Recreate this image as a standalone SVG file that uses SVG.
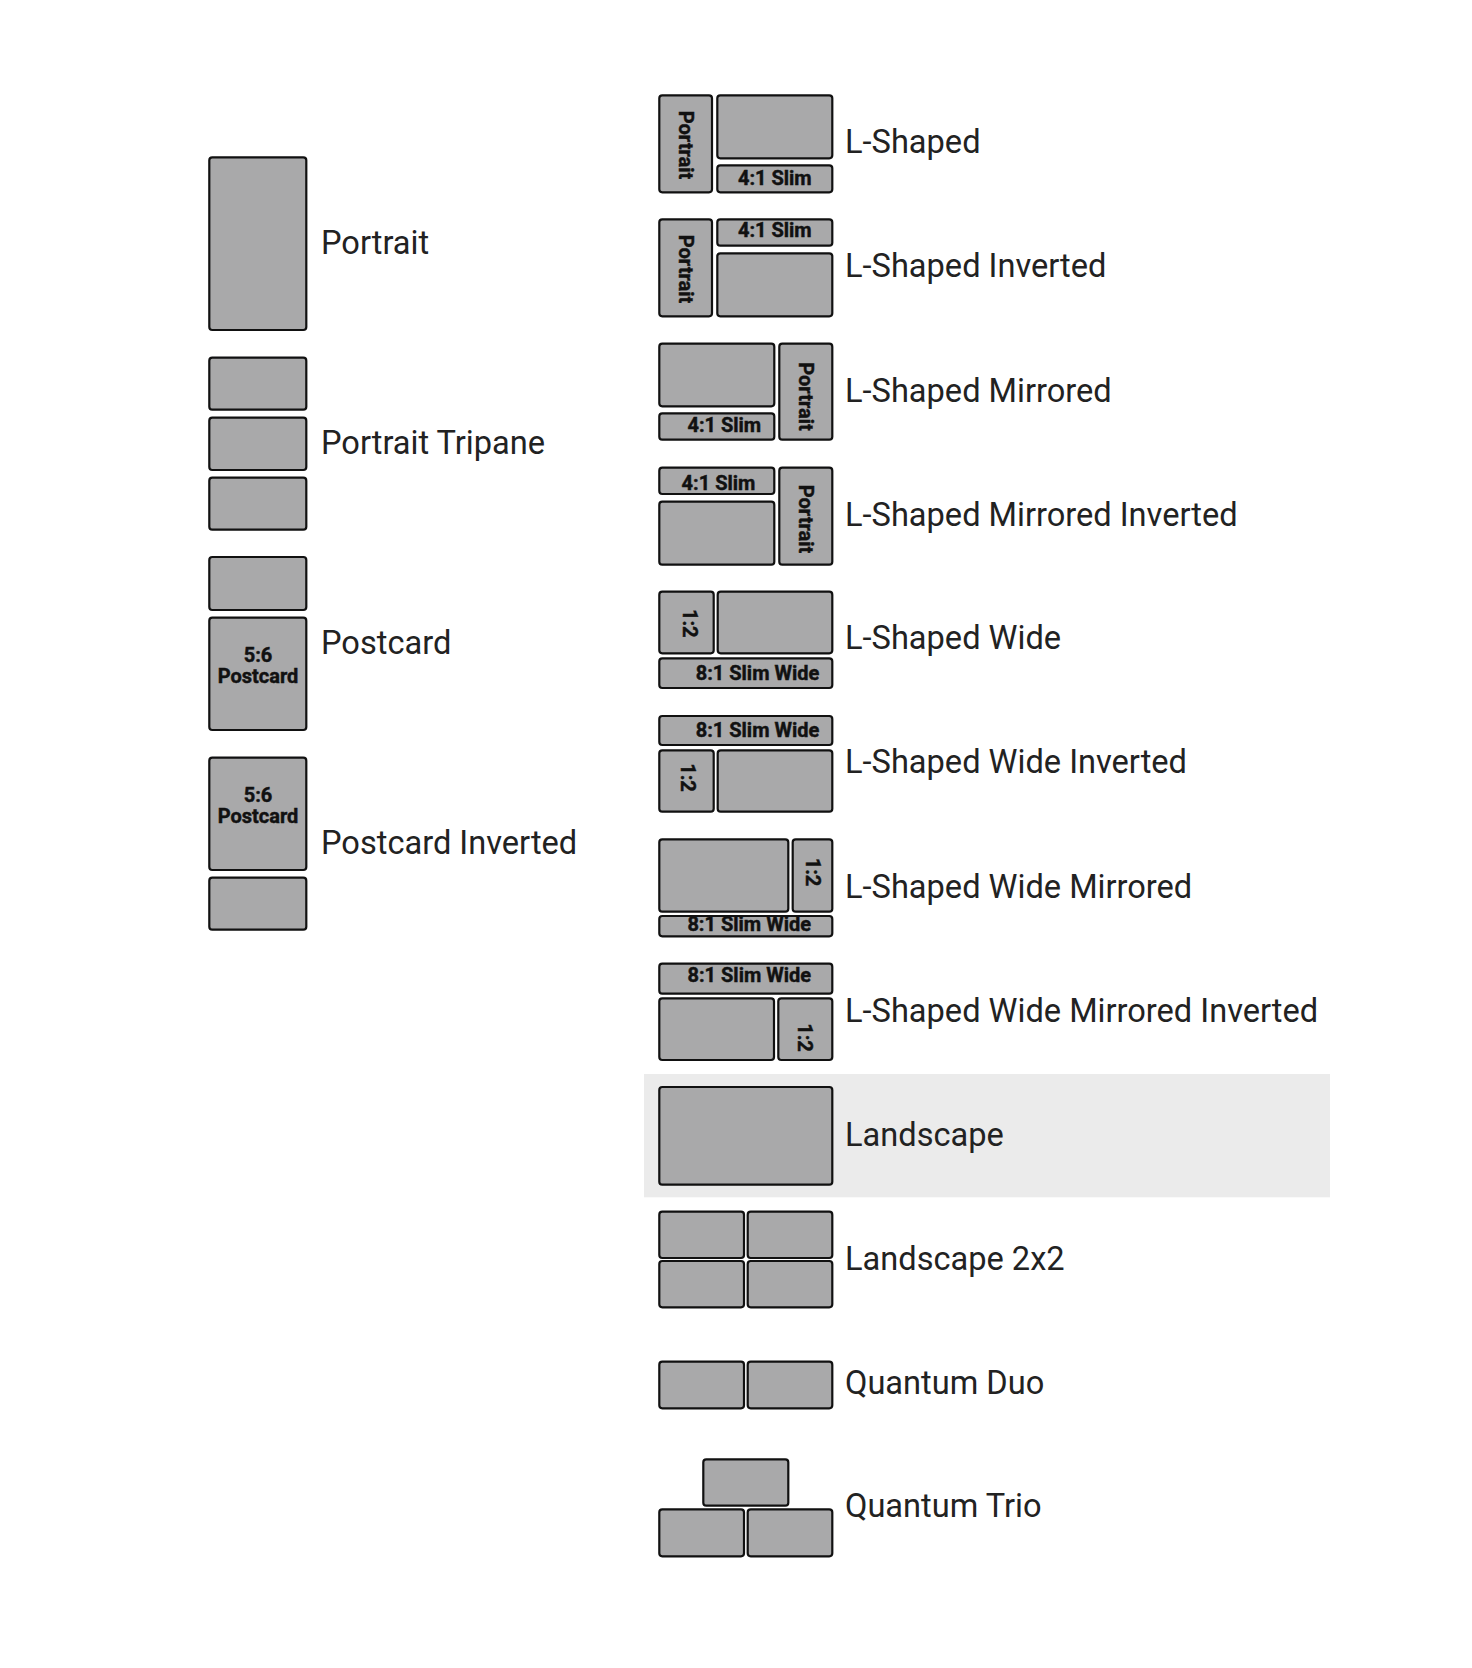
<svg xmlns="http://www.w3.org/2000/svg" width="1472" height="1668" viewBox="0 0 1472 1668">
<style>
.p{fill:#a9a9aa;stroke:#111;stroke-width:2.2}
.lbl{font-family:Roboto,"Liberation Sans",sans-serif;font-size:32.6px;fill:#222}
.t{font-family:Roboto,"Liberation Sans",sans-serif;font-size:20px;font-weight:bold;fill:#111;stroke:#111;stroke-width:0.45;text-anchor:middle}
.r{dominant-baseline:central}
</style>
<rect width="1472" height="1668" fill="#fff"/>
<rect x="644" y="1074" width="686" height="123.3" fill="#ebebeb"/>

<g id="portrait">
<rect class="p" x="209.3" y="157.3" width="97" height="172.7" rx="3"/>
<text class="lbl" x="321" y="254">Portrait</text>
</g>
<g id="portrait-tripane">
<rect class="p" x="209.3" y="357.7" width="97" height="52" rx="3"/>
<rect class="p" x="209.3" y="417.7" width="97" height="52.3" rx="3"/>
<rect class="p" x="209.3" y="477.7" width="97" height="52" rx="3"/>
<text class="lbl" x="321" y="453.5">Portrait Tripane</text>
</g>
<g id="postcard">
<rect class="p" x="209.3" y="557" width="97" height="53" rx="3"/>
<rect class="p" x="209.3" y="617.7" width="97" height="112.3" rx="3"/>
<text class="t" x="258" y="661.7">5:6</text>
<text class="t" x="258" y="683.3">Postcard</text>
<text class="lbl" x="321" y="654">Postcard</text>
</g>
<g id="postcard-inverted">
<rect class="p" x="209.3" y="757.7" width="97" height="112.3" rx="3"/>
<rect class="p" x="209.3" y="877.7" width="97" height="52" rx="3"/>
<text class="t" x="258" y="801.7">5:6</text>
<text class="t" x="258" y="823.3">Postcard</text>
<text class="lbl" x="321" y="853.5">Postcard Inverted</text>
</g>

<g id="l-shaped">
<rect class="p" x="659.3" y="95.3" width="52.7" height="97" rx="3"/>
<rect class="p" x="717.3" y="95.3" width="115" height="63" rx="3"/>
<rect class="p" x="717.3" y="165.3" width="115" height="27" rx="3"/>
<text class="t r" transform="translate(686,145) rotate(90)">Portrait</text>
<text class="t" x="774.8" y="185">4:1 Slim</text>
<text class="lbl" x="845" y="153.3">L-Shaped</text>
</g>
<g id="l-shaped-inverted">
<rect class="p" x="659.3" y="219.3" width="52.7" height="97" rx="3"/>
<rect class="p" x="717.3" y="219.3" width="115" height="26.4" rx="3"/>
<rect class="p" x="717.3" y="253.3" width="115" height="63" rx="3"/>
<text class="t r" transform="translate(686,269) rotate(90)">Portrait</text>
<text class="t" x="774.8" y="237.3">4:1 Slim</text>
<text class="lbl" x="845" y="277.3">L-Shaped Inverted</text>
</g>
<g id="l-shaped-mirrored">
<rect class="p" x="659.3" y="343.7" width="115" height="62.6" rx="3"/>
<rect class="p" x="659.3" y="413.3" width="115" height="26.4" rx="3"/>
<rect class="p" x="779.3" y="343.7" width="53" height="96" rx="3"/>
<text class="t r" transform="translate(805.8,396.5) rotate(90)">Portrait</text>
<text class="t" x="724.3" y="431.7">4:1 Slim</text>
<text class="lbl" x="845" y="401.7">L-Shaped Mirrored</text>
</g>
<g id="l-shaped-mirrored-inverted">
<rect class="p" x="659.3" y="467.7" width="115" height="26.3" rx="3"/>
<rect class="p" x="659.3" y="501.7" width="115" height="63" rx="3"/>
<rect class="p" x="779.3" y="467.7" width="53" height="97" rx="3"/>
<text class="t r" transform="translate(805.8,519) rotate(90)">Portrait</text>
<text class="t" x="718.5" y="490">4:1 Slim</text>
<text class="lbl" x="845" y="525.7">L-Shaped Mirrored Inverted</text>
</g>
<g id="l-shaped-wide">
<rect class="p" x="659.3" y="591.7" width="54.4" height="61.6" rx="3"/>
<rect class="p" x="717.7" y="591.7" width="114.6" height="61.6" rx="3"/>
<rect class="p" x="659.3" y="658.3" width="173" height="29.7" rx="3"/>
<text class="t r" transform="translate(689.5,623.3) rotate(90)">1:2</text>
<text class="t" x="757.5" y="680">8:1 Slim Wide</text>
<text class="lbl" x="845" y="649.4">L-Shaped Wide</text>
</g>
<g id="l-shaped-wide-inverted">
<rect class="p" x="659.3" y="716" width="173" height="29" rx="3"/>
<rect class="p" x="659.3" y="750.3" width="54.4" height="61.4" rx="3"/>
<rect class="p" x="717.7" y="750.3" width="114.6" height="61.4" rx="3"/>
<text class="t r" transform="translate(687.5,777.5) rotate(90)">1:2</text>
<text class="t" x="757.5" y="737.3">8:1 Slim Wide</text>
<text class="lbl" x="845" y="773.3">L-Shaped Wide Inverted</text>
</g>
<g id="l-shaped-wide-mirrored">
<rect class="p" x="659.3" y="839.3" width="129" height="72.4" rx="3"/>
<rect class="p" x="792.7" y="839.3" width="39.6" height="72.4" rx="3"/>
<rect class="p" x="659.3" y="916" width="173" height="20.3" rx="3"/>
<text class="t r" transform="translate(812.5,872) rotate(90)">1:2</text>
<text class="t" x="749.2" y="931">8:1 Slim Wide</text>
<text class="lbl" x="845" y="897.5">L-Shaped Wide Mirrored</text>
</g>
<g id="l-shaped-wide-mirrored-inverted">
<rect class="p" x="659.3" y="963.7" width="173" height="30" rx="3"/>
<rect class="p" x="659.3" y="998.3" width="114.7" height="61.7" rx="3"/>
<rect class="p" x="778.3" y="998.3" width="54" height="61.7" rx="3"/>
<text class="t r" transform="translate(805,1037.5) rotate(90)">1:2</text>
<text class="t" x="749.3" y="981.7">8:1 Slim Wide</text>
<text class="lbl" x="845" y="1021.5">L-Shaped Wide Mirrored Inverted</text>
</g>
<g id="landscape">
<rect class="p" x="659.3" y="1087" width="173" height="97.7" rx="3"/>
<text class="lbl" x="845" y="1145.5">Landscape</text>
</g>
<g id="landscape-2x2">
<rect class="p" x="659.3" y="1211.7" width="84.7" height="46.3" rx="3"/>
<rect class="p" x="747.7" y="1211.7" width="84.6" height="46.3" rx="3"/>
<rect class="p" x="659.3" y="1261" width="84.7" height="46.3" rx="3"/>
<rect class="p" x="747.7" y="1261" width="84.6" height="46.3" rx="3"/>
<text class="lbl" x="845" y="1269.5">Landscape 2x2</text>
</g>
<g id="quantum-duo">
<rect class="p" x="659.3" y="1361.7" width="84.7" height="46.6" rx="3"/>
<rect class="p" x="747.7" y="1361.7" width="84.6" height="46.6" rx="3"/>
<text class="lbl" x="845" y="1394">Quantum Duo</text>
</g>
<g id="quantum-trio">
<rect class="p" x="703.3" y="1459.3" width="85" height="46.4" rx="3"/>
<rect class="p" x="659.3" y="1509.3" width="84.7" height="47" rx="3"/>
<rect class="p" x="747.7" y="1509.3" width="84.6" height="47" rx="3"/>
<text class="lbl" x="845" y="1516.7">Quantum Trio</text>
</g>
<g id="connectors"/>
</svg>
